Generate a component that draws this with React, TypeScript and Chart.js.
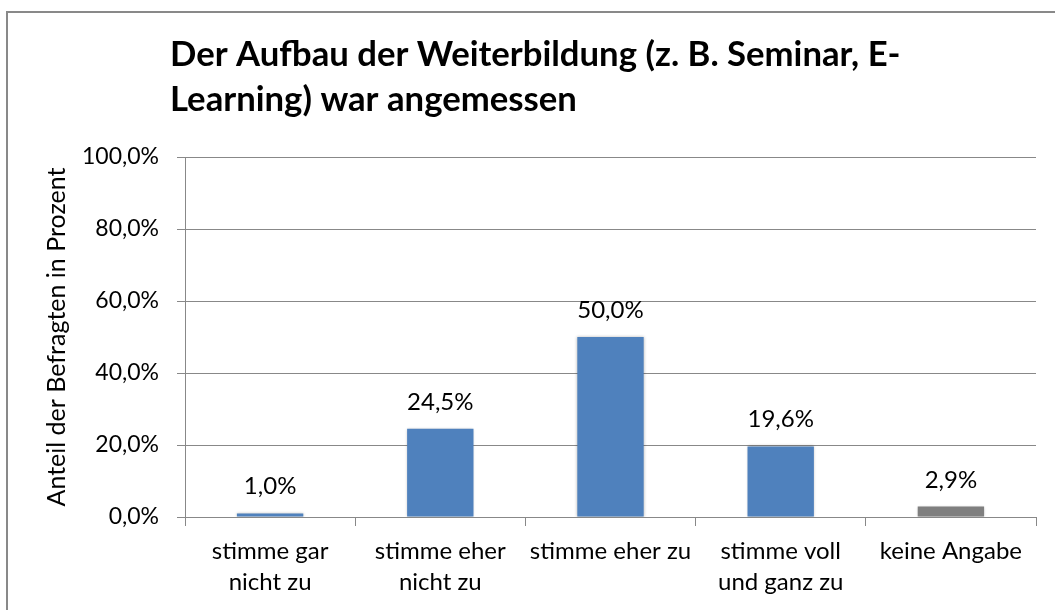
import React, { useEffect, useRef } from 'react';
import { Chart, registerables } from 'chart.js';

Chart.register(...registerables);

const categories: (string | string[])[] = [
  ['stimme gar', 'nicht zu'],
  ['stimme eher', 'nicht zu'],
  'stimme eher zu',
  ['stimme voll', 'und ganz zu'],
  'keine Angabe',
];
const values = [1.0, 24.5, 50.0, 19.6, 2.9];
const valueLabels = ['1,0%', '24,5%', '50,0%', '19,6%', '2,9%'];
const barColors = ['#4F81BD', '#4F81BD', '#4F81BD', '#4F81BD', '#7F7F7F'];
const yMin = 0;
const yMax = 100;
const yStep = 20;
const titleLines = ['Der Aufbau der Weiterbildung (z. B. Seminar, E-', 'Learning) war angemessen'];
const yAxisTitle = 'Anteil der Befragten in Prozent';

const FONT = 'Lato';

const formatPct = (v: number) => v.toFixed(1).replace('.', ',') + '%';

export default function App() {
  const canvasRef = useRef<HTMLCanvasElement | null>(null);

  useEffect(() => {
    if (!canvasRef.current) return;

    const titlePlugin = {
      id: 'customTitle',
      afterDraw(chart: any) {
        const ctx = chart.ctx;
        ctx.save();
        ctx.fillStyle = '#000';
        ctx.font = `bold 34.7px ${FONT}`;
        ctx.textAlign = 'left';
        ctx.textBaseline = 'alphabetic';
        const x = chart.chartArea.left - 15;
        titleLines.forEach((line, i) => {
          ctx.fillText(line, x, 66 + i * 45);
        });
        ctx.restore();
      },
    };

    const barsPlugin = {
      id: 'barsAndLabels',
      beforeDatasetsDraw(chart: any) {
        const ctx = chart.ctx;
        ctx.save();
        ctx.shadowColor = 'rgba(0,0,0,0.28)';
        ctx.shadowBlur = 3;
        ctx.shadowOffsetX = 0;
        ctx.shadowOffsetY = 0;
      },
      afterDatasetsDraw(chart: any) {
        const ctx = chart.ctx;
        ctx.restore();
        const meta = chart.getDatasetMeta(0);
        ctx.save();
        ctx.fillStyle = '#000';
        ctx.font = `24px ${FONT}`;
        ctx.textAlign = 'center';
        ctx.textBaseline = 'alphabetic';
        meta.data.forEach((bar: any, i: number) => {
          ctx.fillText(valueLabels[i], bar.x, bar.y - 19);
        });
        ctx.restore();
      },
    };

    const chart = new Chart(canvasRef.current, {
      type: 'bar',
      data: {
        labels: categories,
        datasets: [
          {
            data: values,
            backgroundColor: barColors,
            borderWidth: 0,
            barPercentage: 0.39,
            categoryPercentage: 1,
          },
        ],
      },
      options: {
        animation: false,
        responsive: false,
        maintainAspectRatio: false,
        layout: { padding: { top: 157, bottom: 0, left: 0, right: 19 } },
        plugins: {
          legend: { display: false },
          title: { display: false },
          tooltip: { enabled: false },
        },
        scales: {
          x: {
            afterFit(scale: any) {
              scale.height = 93;
            },
            grid: {
              display: true,
              drawOnChartArea: false,
              drawTicks: true,
              tickLength: 9,
              color: '#888888',
              offset: true,
            },
            border: { display: true, color: '#888888' },
            ticks: {
              color: '#000',
              font: { family: FONT, size: 24, lineHeight: 1.28 },
              padding: 10,
              maxRotation: 0,
              autoSkip: false,
            },
          },
          y: {
            min: yMin,
            max: yMax,
            afterFit(scale: any) {
              scale.width = 185;
            },
            grid: {
              color: '#888888',
              tickLength: 8,
              drawTicks: true,
            },
            border: { display: true, color: '#888888' },
            ticks: {
              stepSize: yStep,
              color: '#000',
              font: { family: FONT, size: 23 },
              padding: 18,
              callback: (v: any) => formatPct(Number(v)),
            },
            title: {
              display: true,
              text: yAxisTitle,
              color: '#000',
              font: { family: FONT, size: 25, lineHeight: 1.2 },
              padding: { top: 42, bottom: 0 },
            },
          },
        },
      },
      plugins: [titlePlugin, barsPlugin],
    });

    return () => chart.destroy();
  }, []);

  return (
    <div
      style={{
        position: 'fixed',
        left: 0,
        top: 0,
        width: 1055,
        height: 610,
        overflow: 'hidden',
        background: '#fff',
      }}
    >
      <div
        style={{
          position: 'absolute',
          left: 6,
          top: 11,
          width: 1200,
          height: 800,
          border: '2px solid #898989',
          boxSizing: 'border-box',
        }}
      />
      <canvas
        ref={canvasRef}
        width={1055}
        height={610}
        style={{ position: 'absolute', left: 0, top: 0, width: 1055, height: 610 }}
      />
    </div>
  );
}
